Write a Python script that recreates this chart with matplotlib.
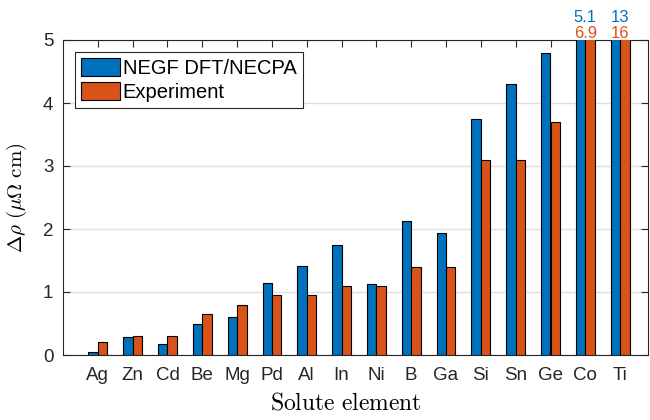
import numpy as np
import matplotlib
matplotlib.use("Agg")
import matplotlib.pyplot as plt

plt.rcParams['font.family'] = ['Liberation Sans', 'DejaVu Sans']
plt.rcParams['mathtext.fontset'] = 'cm'

# Datos
elementos = ['Ag', 'Zn', 'Cd', 'Be', 'Mg', 'Pd', 'Al', 'In', 'Ni', 'B', 'Ga',
             'Si', 'Sn', 'Ge', 'Co', 'Ti']
teoria = [0.05, 0.28, 0.18, 0.50, 0.61, 1.15, 1.41, 1.74, 1.12, 2.12, 1.94,
          3.75, 4.30, 4.80, 5.1, 13]
experimento = [0.20, 0.30, 0.30, 0.65, 0.80, 0.95, 0.95, 1.10, 1.10, 1.40, 1.40,
               3.10, 3.10, 3.70, 6.9, 16]

azul = '#0072BD'
naranja = '#D95319'
ymax = 5

fig = plt.figure(figsize=(6.5, 4.2), dpi=100)
ax = fig.add_axes([63 / 650, 1 - 355 / 420, 585 / 650, 315 / 420])

x = np.arange(1, len(elementos) + 1)
w = 0.27
ax.bar(x - w / 2, teoria, w, color=azul, edgecolor='black', linewidth=0.8,
       label='NEGF DFT/NECPA', zorder=3)
ax.bar(x + w / 2, experimento, w, color=naranja, edgecolor='black', linewidth=0.8,
       label='Experiment', zorder=3)

# Valores fuera de escala escritos encima
for xi, t, e in zip(x, teoria, experimento):
    if t > ymax or e > ymax:
        ax.text(xi, ymax + 0.29, f'{t:g}', color=azul, ha='center', va='baseline',
                fontsize=12, clip_on=False)
        ax.text(xi, ymax + 0.035, f'{e:g}', color=naranja, ha='center', va='baseline',
                fontsize=12, clip_on=False)

ax.set_xlim(0, 16.8)
ax.set_ylim(0, ymax)
ax.set_xticks(x)
ax.set_xticklabels(elementos)
ax.set_yticks(range(0, 6))
ax.yaxis.grid(True, color='#e0e0e0', linewidth=1, zorder=0)
ax.tick_params(direction='in', top=True, right=True, labelsize=13.5,
               colors='#262626', length=5, width=0.8)
ax.tick_params(axis='x', pad=9)
ax.tick_params(axis='y', pad=7)
for s in ax.spines.values():
    s.set_color('#262626')
    s.set_linewidth(0.8)

ax.set_xlabel(r'$\mathrm{Solute\ element}$', fontsize=17)
ax.xaxis.set_label_coords(0.484, -0.12)
ax.set_ylabel(r'$\Delta\rho\ (\mu\Omega\ \mathrm{cm})$', fontsize=15)
ax.yaxis.set_label_coords(-0.058, 0.5)

leg = ax.legend(loc='upper left', fontsize=14.5, fancybox=False, framealpha=1,
                edgecolor='#262626', borderaxespad=0.58, handlelength=1.94,
                handleheight=1.0, handletextpad=0.15, borderpad=0.3,
                labelspacing=0.22)
leg.get_frame().set_linewidth(0.8)

fig.savefig('out.png', dpi=100)
